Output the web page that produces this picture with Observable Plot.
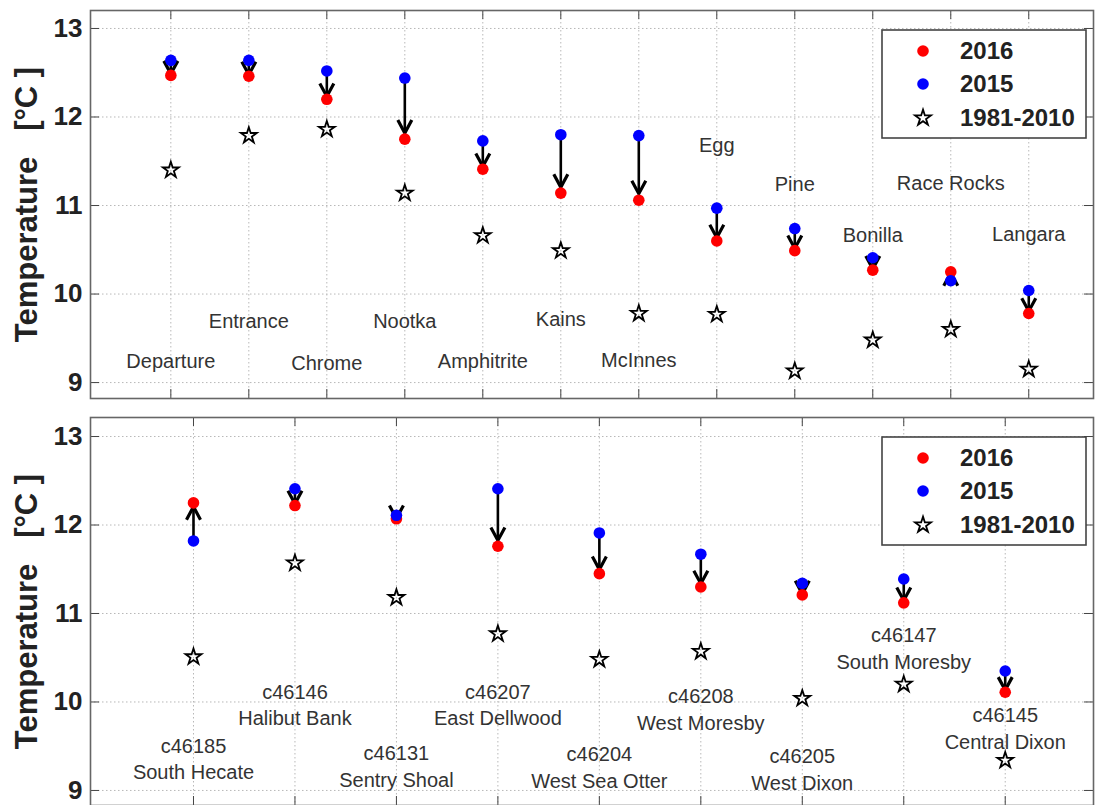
<!DOCTYPE html>
<html><head><meta charset="utf-8">
<script src="https://cdn.jsdelivr.net/npm/d3@7"></script>
<script src="https://cdn.jsdelivr.net/npm/@observablehq/plot@0.6"></script>
<style>
body{margin:0;background:#fff;font-family:"Liberation Sans",Arial,sans-serif}
#chart svg{display:block}
</style>
</head><body><div id="chart"></div>
<script>
// ---- Data: southern (lighthouse) stations ----
const southStations = ["Departure","Entrance","Chrome","Nootka","Amphitrite","Kains","McInnes","Egg","Pine","Bonilla","Race Rocks","Langara"];
const south2016 = [12.47,12.46,12.20,11.75,11.41,11.14,11.06,10.60,10.49,10.27,10.25,9.78];
const south2015 = [12.64,12.64,12.52,12.44,11.73,11.80,11.79,10.97,10.74,10.41,10.15,10.04];
const southClim = [11.40,11.79,11.86,11.14,10.66,10.49,9.78,9.77,9.13,9.48,9.60,9.15];
const southLabelY = [9.26,9.71,9.24,9.71,9.26,9.73,9.27,11.70,11.26,10.68,11.27,10.69];

// ---- Data: buoy stations ----
const northCodes = ["c46185","c46146","c46131","c46207","c46204","c46208","c46205","c46147","c46145"];
const northNames = ["South Hecate","Halibut Bank","Sentry Shoal","East Dellwood","West Sea Otter","West Moresby","West Dixon","South Moresby","Central Dixon"];
const north2016 = [12.25,12.22,12.07,11.76,11.45,11.30,11.21,11.12,10.11];
const north2015 = [11.82,12.41,12.11,12.41,11.91,11.67,11.34,11.39,10.35];
const northClim = [10.51,11.57,11.18,10.77,10.48,10.57,10.04,10.20,9.34];
const northLabelY = [9.375,9.985,9.285,9.985,9.275,9.93,9.255,10.62,9.715];

const yTicks = [9,10,11,12,13];
const seriesNames = ["2016","2015","1981-2010"];
const yLabel = "Temperature   [°C ]";

const W = 1095, ML = 90, MR = 2;
const headDown = {draw(ctx){ ctx.moveTo(-7,-13); ctx.lineTo(0,0); ctx.lineTo(7,-13); }};
const headUp = {draw(ctx){ ctx.moveTo(-7,13); ctx.lineTo(0,0); ctx.lineTo(7,13); }};

function panel({labels, y16, y15, clim, labelY, xDomain, yDomain, height, marginTop, marginBottom}) {
  const rows = labels.map((label, k) => ({i: k + 1, label, y16: y16[k], y15: y15[k], clim: clim[k], ly: labelY[k]}));
  const xs = rows.map(d => d.i);
  const frameW = W - ML - MR, frameH = height - marginTop - marginBottom;
  const arrows = rows.map(d => ({x: d.i, y1: d.y15, tip: d.y15 + 0.9 * (d.y16 - d.y15), up: d.y16 > d.y15}));
  const grid = {stroke: "#b8b8b8", strokeOpacity: 1, strokeWidth: 1, strokeDasharray: "1.5,2.5"};
  const tick = {stroke: "#444", strokeWidth: 1};
  const plot = Plot.plot({
    width: W, height, marginLeft: ML, marginRight: MR, marginTop, marginBottom,
    x: {type: "linear", domain: xDomain, axis: null},
    y: {type: "linear", domain: yDomain, axis: null},
    style: {fontFamily: "Liberation Sans, Arial, sans-serif", color: "#222", background: "white"},
    marks: [
      Plot.gridX(xs, grid),
      Plot.gridY(yTicks, grid),
      Plot.tickX(xs, {x: d => d, insetBottom: frameH - 9, ...tick}),
      Plot.tickX(xs, {x: d => d, insetTop: frameH - 9, ...tick}),
      Plot.tickY(yTicks, {y: d => d, insetRight: frameW - 9, ...tick}),
      Plot.tickY(yTicks, {y: d => d, insetLeft: frameW - 9, ...tick}),
      Plot.frame({stroke: "#666", strokeWidth: 1.6}),
      Plot.axisY(yTicks, {tickSize: 0, tickPadding: 8, tickFormat: d => String(d), fontSize: 26, fontWeight: "bold", label: null}),
      Plot.text([yLabel], {frameAnchor: "left", textAnchor: "middle", lineAnchor: "middle", rotate: -90, dx: -63, fontSize: 31, fontWeight: "bold", fill: "#222"}),
      Plot.ruleX(arrows, {x: "x", y1: "y1", y2: "tip", stroke: "black", strokeWidth: 2.6}),
      Plot.dot(arrows.filter(d => !d.up), {x: "x", y: "tip", symbol: headDown, r: 5, fill: "none", stroke: "black", strokeWidth: 3.2}),
      Plot.dot(arrows.filter(d => d.up), {x: "x", y: "tip", symbol: headUp, r: 5, fill: "none", stroke: "black", strokeWidth: 3.2}),
      Plot.dot(rows, {x: "i", y: "y16", r: 5.8, fill: "#ff0000"}),
      Plot.dot(rows, {x: "i", y: "y15", r: 5.8, fill: "#0000ff"}),
      Plot.dot(rows, {x: "i", y: "clim", symbol: "star", r: 5, fill: "none", stroke: "black", strokeWidth: 1.8}),
      Plot.text(rows, {x: "i", y: "ly", text: "label", fontSize: 20, fill: "#333", lineHeight: 1.32})
    ]
  });
  // legend box (top-right)
  const svg = d3.select(plot);
  const g = svg.append("g").attr("transform", `translate(882,${marginTop + 20})`);
  g.append("rect").attr("width", 204).attr("height", 108).attr("fill", "white").attr("stroke", "#444").attr("stroke-width", 1.6);
  const rowsY = [21, 54, 88];
  const colors = ["#ff0000", "#0000ff", null];
  seriesNames.forEach((name, k) => {
    if (colors[k]) {
      g.append("circle").attr("cx", 41).attr("cy", rowsY[k]).attr("r", 5.8).attr("fill", colors[k]);
    } else {
      g.append("path").attr("d", d3.symbol(d3.symbolStar, 5 * 5 * Math.PI)()).attr("transform", `translate(41,${rowsY[k]})`)
        .attr("fill", "none").attr("stroke", "black").attr("stroke-width", 1.8);
    }
    g.append("text").attr("x", 78).attr("y", rowsY[k]).attr("dy", "0.35em").attr("font-size", 24).attr("font-weight", "bold")
      .attr("text-anchor", "start").attr("fill", "#222").attr("font-family", "Liberation Sans, Arial, sans-serif").text(name);
  });
  return plot;
}

const topPanel = panel({labels: southStations, y16: south2016, y15: south2015, clim: southClim, labelY: southLabelY,
  xDomain: [-0.03, 12.83], yDomain: [8.82, 13.203], height: 405, marginTop: 10, marginBottom: 7});
const bottomPanel = panel({labels: northCodes.map((c, k) => c + "\n" + northNames[k]), y16: north2016, y15: north2015, clim: northClim, labelY: northLabelY,
  xDomain: [-0.015, 9.87], yDomain: [8.83, 13.215], height: 400, marginTop: 12, marginBottom: 0});
document.getElementById("chart").append(topPanel, bottomPanel);
</script>
</body></html>
